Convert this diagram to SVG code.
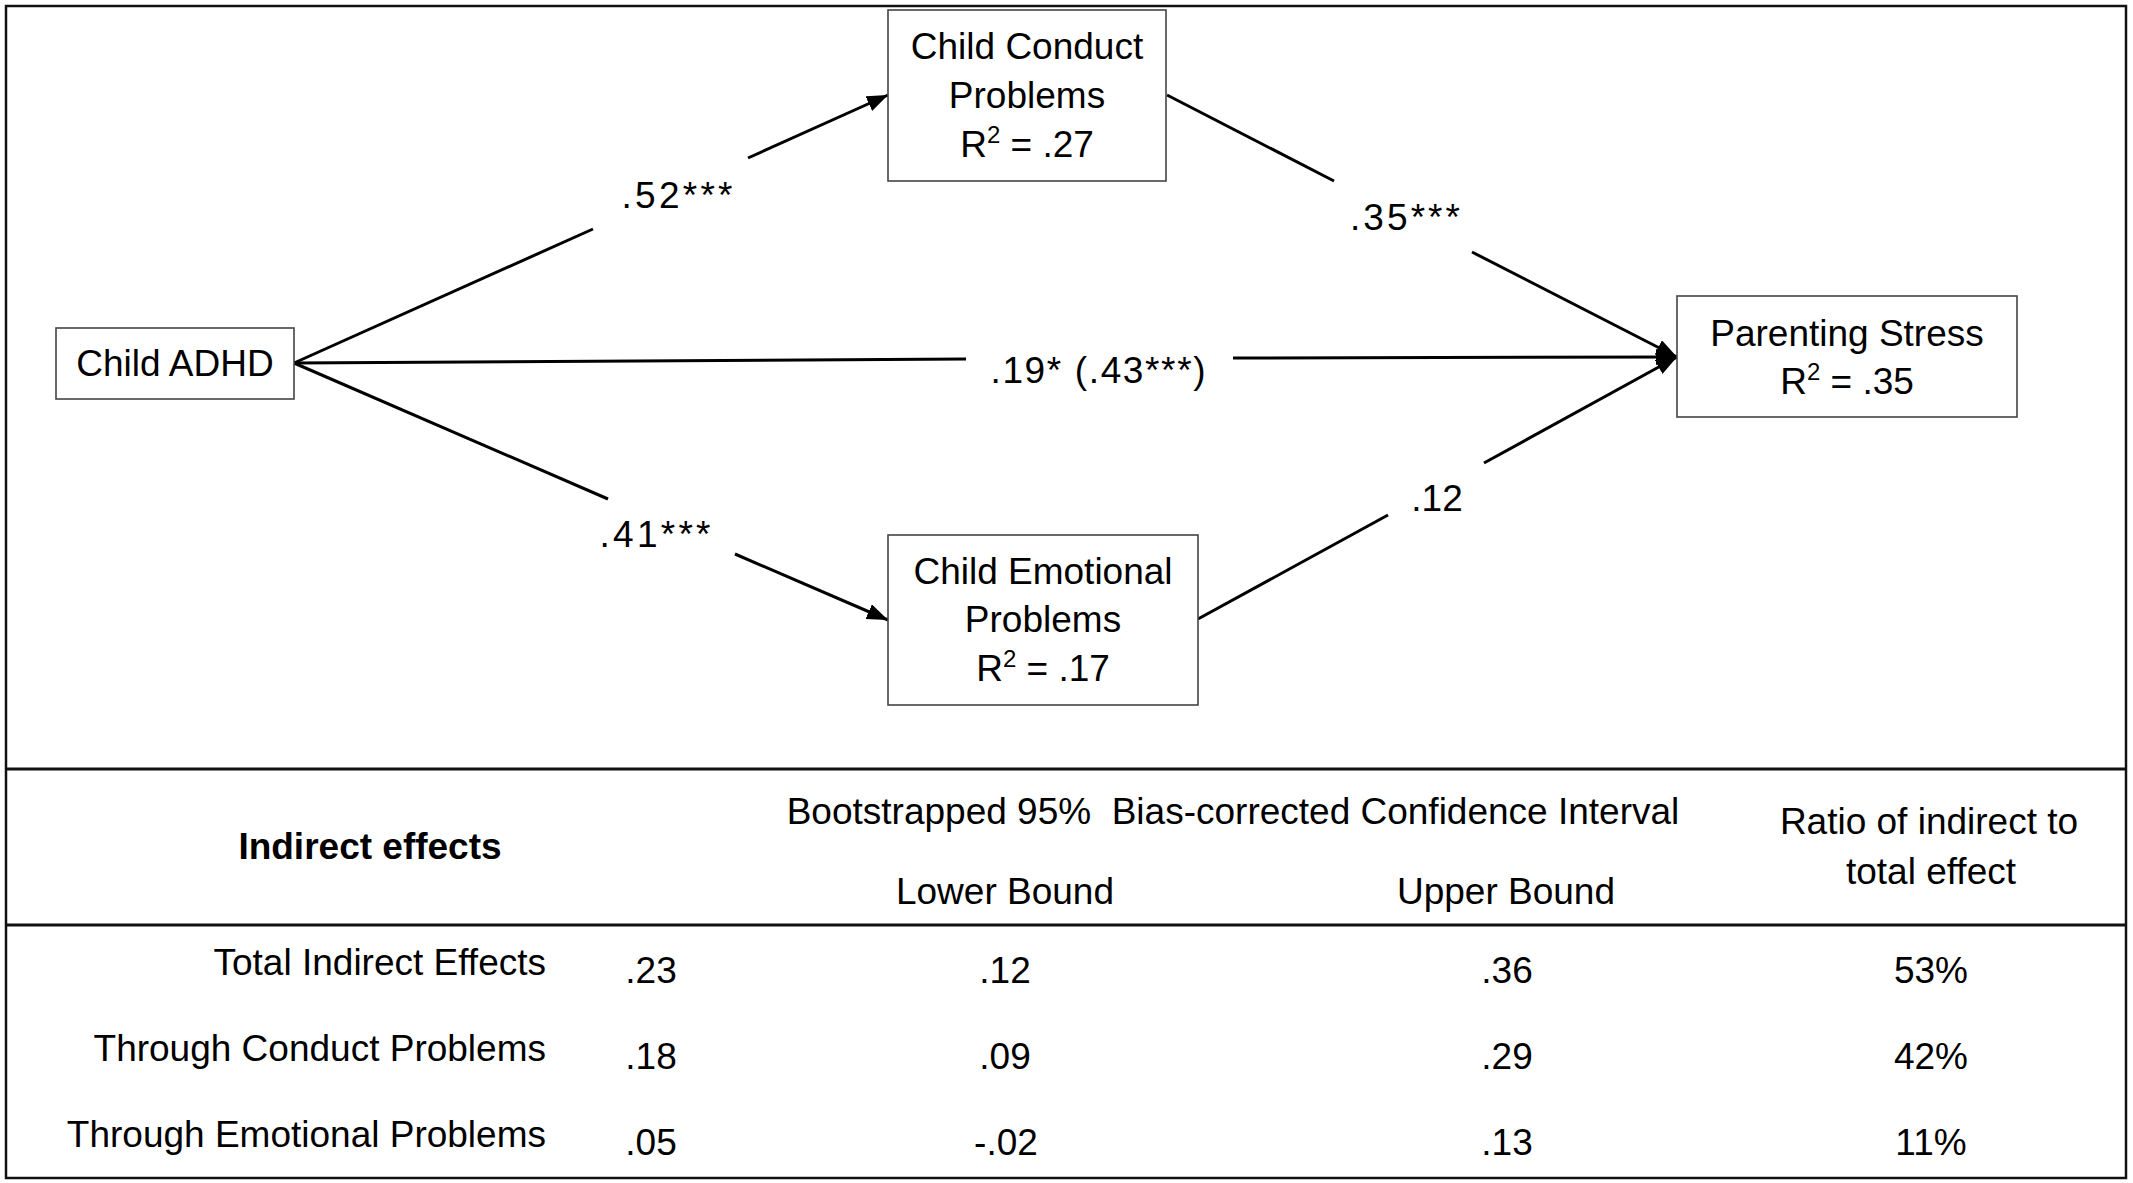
<svg xmlns="http://www.w3.org/2000/svg" width="2133" height="1183" viewBox="0 0 2133 1183">
<style>
text{font-family:"Liberation Sans",Arial,sans-serif;font-size:37px;fill:#000}
.c{text-anchor:middle}
.r{text-anchor:end}
.b{font-weight:bold}
.box{fill:#fff;stroke:#444;stroke-width:1.6}
.ln{stroke:#000;stroke-width:3;fill:none}
.rule{stroke:#111;stroke-width:3}
.sup{font-size:24px}
</style>
<defs>
<marker id="ah" markerUnits="userSpaceOnUse" markerWidth="24" markerHeight="18" refX="21" refY="8" orient="auto">
<path d="M0,0 L21,8 L0,16 z" fill="#000"/>
</marker>
</defs>
<rect x="0" y="0" width="2133" height="1183" fill="#fff"/>
<rect x="6" y="6" width="2120" height="1172" fill="none" stroke="#111" stroke-width="2.5"/>
<line class="rule" x1="6" y1="769" x2="2126" y2="769"/>
<line class="rule" x1="6" y1="925" x2="2126" y2="925"/>

<g id="connectors">
<line class="ln" x1="294" y1="363" x2="593" y2="229"/>
<line class="ln" x1="748" y1="158" x2="888" y2="95" marker-end="url(#ah)"/>
<line class="ln" x1="294" y1="363" x2="608" y2="499"/>
<line class="ln" x1="735" y1="554" x2="888" y2="620" marker-end="url(#ah)"/>
<line class="ln" x1="294" y1="363" x2="966" y2="359"/>
<line class="ln" x1="1233" y1="358" x2="1677" y2="357" marker-end="url(#ah)"/>
<line class="ln" x1="1167" y1="95" x2="1334" y2="181"/>
<line class="ln" x1="1472" y1="252" x2="1677" y2="357" marker-end="url(#ah)"/>
<line class="ln" x1="1198" y1="619" x2="1388" y2="515"/>
<line class="ln" x1="1484" y1="463" x2="1677" y2="357" marker-end="url(#ah)"/>
<text class="c" x="677" y="208" textLength="111" lengthAdjust="spacing">.52***</text>
<text class="c" x="1405" y="230" textLength="110" lengthAdjust="spacing">.35***</text>
<text class="c" x="1098" y="383" textLength="215" lengthAdjust="spacing">.19* (.43***)</text>
<text class="c" x="655" y="547" textLength="111" lengthAdjust="spacing">.41***</text>
<text class="c" x="1437" y="511">.12</text>
</g>

<g id="node-adhd">
<rect class="box" x="56" y="328" width="238" height="71"/>
<text class="c" x="175" y="376">Child ADHD</text>
</g>
<g id="node-conduct">
<rect class="box" x="888" y="10" width="278" height="171"/>
<text class="c" x="1027" y="59">Child Conduct</text>
<text class="c" x="1027" y="108">Problems</text>
<text class="c" x="1027" y="157">R<tspan class="sup" dy="-14">2</tspan><tspan dy="14"> = .27</tspan></text>
</g>
<g id="node-emotional">
<rect class="box" x="888" y="535" width="310" height="170"/>
<text class="c" x="1043" y="584">Child Emotional</text>
<text class="c" x="1043" y="632">Problems</text>
<text class="c" x="1043" y="681">R<tspan class="sup" dy="-14">2</tspan><tspan dy="14"> = .17</tspan></text>
</g>
<g id="node-stress">
<rect class="box" x="1677" y="296" width="340" height="121"/>
<text class="c" x="1847" y="346">Parenting Stress</text>
<text class="c" x="1847" y="394">R<tspan class="sup" dy="-14">2</tspan><tspan dy="14"> = .35</tspan></text>
</g>

<g id="table">
<text class="c b" x="370" y="859">Indirect effects</text>
<text class="c" x="1233" y="824">Bootstrapped 95%&#160; Bias-corrected Confidence Interval</text>
<text class="c" x="1929" y="834">Ratio of indirect to</text>
<text class="c" x="1931" y="884">total effect</text>
<text class="c" x="1005" y="904">Lower Bound</text>
<text class="c" x="1506" y="904">Upper Bound</text>

<text class="r" x="546" y="975">Total Indirect Effects</text>
<text class="r" x="546" y="1061">Through Conduct Problems</text>
<text class="r" x="546" y="1147">Through Emotional Problems</text>

<text class="c" x="651" y="983">.23</text>
<text class="c" x="1005" y="983">.12</text>
<text class="c" x="1507" y="983">.36</text>
<text class="c" x="1931" y="983">53%</text>

<text class="c" x="651" y="1069">.18</text>
<text class="c" x="1005" y="1069">.09</text>
<text class="c" x="1507" y="1069">.29</text>
<text class="c" x="1931" y="1069">42%</text>

<text class="c" x="651" y="1155">.05</text>
<text class="c" x="1006" y="1155">-.02</text>
<text class="c" x="1507" y="1155">.13</text>
<text class="c" x="1931" y="1155">11%</text>
</g>
</svg>
